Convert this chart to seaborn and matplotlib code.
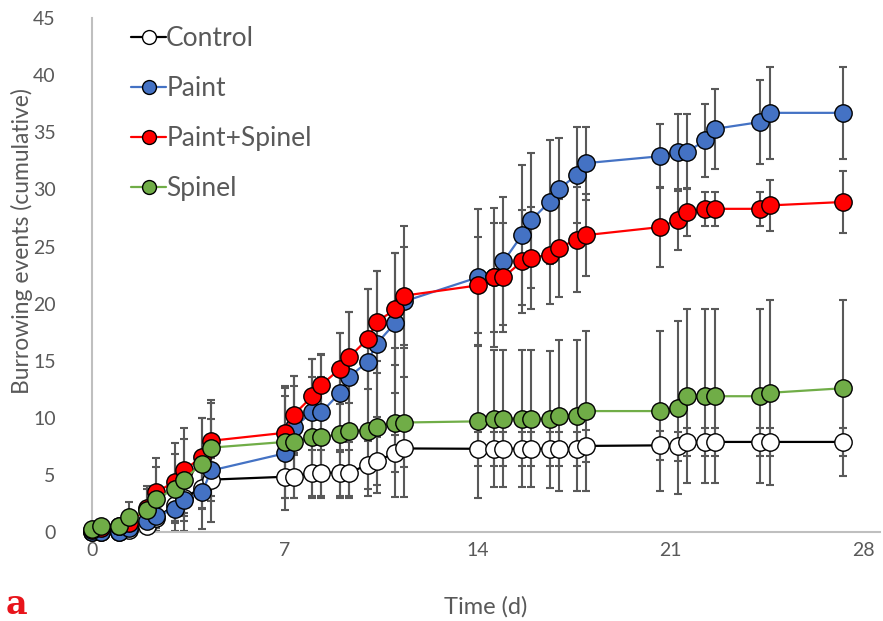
import numpy as np
import pandas as pd
import seaborn as sns
import matplotlib.pyplot as plt

# time points (d)
time_d = [0, 0.33, 1, 1.33, 2, 2.33, 3, 3.33, 4, 4.33,
          7, 7.33, 8, 8.33, 9, 9.33, 10, 10.33, 11, 11.33,
          14, 14.6, 14.93, 15.6, 15.93, 16.6, 16.93, 17.6, 17.93,
          20.6, 21.25, 21.6, 22.25, 22.6, 24.25, 24.6, 27.25]

# cumulative burrowing events, mean per treatment
control = [0, 0, 0, 0.2, 0.5, 1.2, 2.4, 3.0, 3.9, 4.6,
           4.85, 4.85, 5.2, 5.2, 5.2, 5.2, 5.9, 6.25, 6.9, 7.33,
           7.3, 7.3, 7.3, 7.3, 7.3, 7.3, 7.3, 7.3, 7.55,
           7.6, 7.5, 7.9, 7.9, 7.9, 7.9, 7.9, 7.9]
paint = [0, 0, 0, 0.35, 1.0, 1.4, 2.0, 2.8, 3.5, 5.4,
         6.9, 9.2, 10.5, 10.5, 12.2, 13.6, 14.9, 16.5, 18.3, 20.2,
         22.3, 22.3, 23.7, 26.0, 27.3, 28.9, 30.0, 31.3, 32.3,
         32.9, 33.3, 33.3, 34.3, 35.3, 35.9, 36.7, 36.7]
paint_spinel = [0.2, 0.4, 0.5, 0.8, 2.1, 3.5, 4.4, 5.4, 6.6, 8.0,
                8.7, 10.3, 11.9, 12.9, 14.3, 15.3, 16.9, 18.4, 19.5, 20.7,
                21.6, 22.3, 22.3, 23.7, 24.0, 24.3, 24.9, 25.6, 26.0,
                26.7, 27.3, 28.0, 28.3, 28.3, 28.3, 28.6, 28.9]
spinel = [0.3, 0.5, 0.5, 1.3, 1.9, 2.9, 3.8, 4.6, 6.0, 7.4,
          7.9, 7.9, 8.3, 8.3, 8.6, 8.9, 8.9, 9.2, 9.6, 9.6,
          9.7, 9.95, 9.95, 9.95, 9.95, 9.9, 10.2, 10.2, 10.6,
          10.6, 10.9, 11.9, 11.9, 11.9, 11.9, 12.2, 12.6]

# error bars (+/-)
control_err = [0, 0, 0, 0.2, 0.4, 0.8, 1.4, 1.6, 1.8, 1.9,
               1.9, 1.9, 2.0, 2.0, 2.0, 2.0, 2.1, 2.1, 1.6, 1.6,
               1.5, 1.5, 1.5, 1.5, 1.5, 1.5, 1.5, 1.5, 1.4,
               1.3, 1.3, 1.2, 1.2, 1.2, 1.2, 1.2, 1.2]
paint_err = [0, 0, 0, 0.3, 0.9, 1.3, 1.9, 2.7, 3.2, 4.5,
             5.0, 4.5, 4.7, 5.0, 5.2, 5.7, 6.4, 6.4, 6.1, 6.6,
             6.0, 6.1, 5.6, 6.1, 5.9, 5.4, 4.5, 4.2, 3.2,
             2.8, 3.3, 3.3, 3.2, 3.5, 3.7, 4.0, 4.0]
paint_spinel_err = [0.2, 0.4, 0.5, 0.8, 1.9, 3.0, 3.4, 3.7, 3.4, 3.3,
                    3.9, 3.4, 3.3, 2.7, 3.1, 4.0, 4.4, 4.5, 4.9, 4.3,
                    4.2, 4.8, 4.8, 4.5, 4.5, 4.3, 4.3, 4.6, 3.6,
                    3.5, 2.6, 2.1, 1.5, 1.5, 1.5, 2.2, 2.7]
spinel_err = [0.3, 0.5, 0.5, 1.3, 1.9, 2.8, 3.0, 3.6, 4.0, 4.2,
              4.9, 4.9, 5.3, 5.3, 5.6, 5.9, 5.7, 5.8, 6.5, 6.5,
              6.7, 6.0, 6.0, 6.0, 6.0, 6.0, 6.6, 6.6, 7.0,
              7.0, 7.6, 7.6, 7.6, 7.6, 7.6, 8.1, 7.7]

labels = ['Control', 'Paint', 'Paint+Spinel', 'Spinel']
line_colors = ['black', '#4472C4', '#FF0000', '#70AD47']
face_colors = ['white', '#4472C4', '#FF0000', '#70AD47']

series = {
    'Control': (control, control_err),
    'Paint': (paint, paint_err),
    'Paint+Spinel': (paint_spinel, paint_spinel_err),
    'Spinel': (spinel, spinel_err),
}

sns.set_style('white')
plt.rcParams['font.family'] = ['Lato', 'DejaVu Sans']

fig = plt.figure(figsize=(8.83, 6.21), dpi=100)
ax = fig.add_axes([0.104, 0.143, 0.893, 0.828])

gray = '#595959'

# error bars first so the markers sit on top of them
for name in labels:
    vals, err = series[name]
    ax.errorbar(time_d, vals, yerr=err, fmt='none', ecolor=gray,
                elinewidth=1.5, capsize=3.2, capthick=1.5, zorder=1)

for name, lc, fc in zip(labels, line_colors, face_colors):
    vals, _ = series[name]
    df = pd.DataFrame({'t': time_d, 'v': vals})
    sns.lineplot(data=df, x='t', y='v', ax=ax, color=lc, linewidth=1.6,
                 marker='o', markersize=12.5, markerfacecolor=fc,
                 markeredgecolor='black', markeredgewidth=1.0,
                 label=name, zorder=3, clip_on=False)

ax.set_xlim(0, 28.6)
ax.set_ylim(0, 45)
ax.set_xticks([0, 7, 14, 21, 28])
ax.set_yticks(np.arange(0, 46, 5))
ax.tick_params(axis='both', length=0, labelsize=14, colors=gray)
ax.tick_params(axis='y', pad=26)
ax.tick_params(axis='x', pad=7)

for side in ['top', 'right']:
    ax.spines[side].set_visible(False)
for side in ['left', 'bottom']:
    ax.spines[side].set_color('#BFBFBF')
    ax.spines[side].set_linewidth(1.5)

ax.set_xlabel('Time (d)', fontsize=17, color=gray, labelpad=27)
ax.set_ylabel('Burrowing events (cumulative)', fontsize=16.5, color=gray)
ax.yaxis.set_label_coords(-0.074, 0.566)

leg = ax.legend(loc='upper left', bbox_to_anchor=(0.1365, 0.975),
                bbox_transform=fig.transFigure, frameon=False,
                fontsize=19, handlelength=1.33, handletextpad=0.0,
                labelspacing=0.95, borderaxespad=0, markerscale=0.8)
for txt in leg.get_texts():
    txt.set_color(gray)

fig.text(0.006, 0.012, 'a', color='#E8141B', fontsize=24, fontweight='bold',
         family='DejaVu Serif')

fig.savefig('out.png', dpi=100)
